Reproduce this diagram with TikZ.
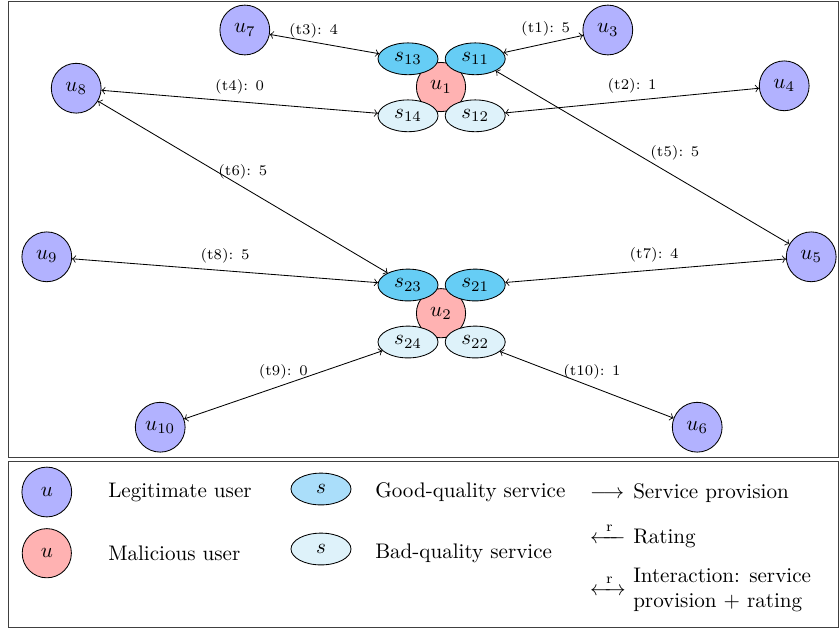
\documentclass[tikz,border=0pt]{standalone}
\usepackage{mathtools}
\usetikzlibrary{shapes.geometric}

\definecolor{legitblue}{RGB}{178,178,255}
\definecolor{malred}{RGB}{255,178,178}
\definecolor{goodsvc}{RGB}{102,205,245}
\definecolor{goodkey}{RGB}{170,222,250}
\definecolor{badsvc}{RGB}{222,242,250}

\begin{document}
\begin{tikzpicture}[thin, legit/.style = {draw, circle, fill=legitblue, minimum size=0.83cm, inner sep=0pt},
		mal/.style = {draw, circle, fill=malred, minimum size=0.82cm, inner sep=0pt},
		good/.style = {draw, ellipse, fill=goodsvc, minimum width=1cm, minimum height=0.53cm, inner sep=0pt},
		bad/.style = {draw, ellipse, fill=badsvc, minimum width=1cm, minimum height=0.53cm, inner sep=0pt},
		lbl/.style = {font=\scriptsize, above},
		keytext/.style = {anchor=base west},
		keyarrow/.style = {anchor=base west, inner sep=0pt}]

		\useasboundingbox (0,0) rectangle (13.983,-10.5);

		% frames
		\draw[black!75] (0.138,-0.017) rectangle (13.967,-7.617);
		\draw[black!75] (0.138,-7.683) rectangle (13.967,-10.45);

		% users
		\node[legit] (u7) at (4.08,-0.50) {$u_7$};
		\node[legit] (u3) at (10.13,-0.50) {$u_3$};
		\node[legit] (u8) at (1.27,-1.47) {$u_8$};
		\node[legit] (u4) at (13.07,-1.43) {$u_4$};
		\node[legit] (u9) at (0.78,-4.28) {$u_9$};
		\node[legit] (u5) at (13.52,-4.28) {$u_5$};
		\node[legit] (u10) at (2.67,-7.12) {$u_{10}$};
		\node[legit] (u6) at (11.62,-7.12) {$u_6$};

		% first malicious user and its services
		\node[mal] (u1) at (7.35,-1.45) {$u_1$};
		\node[good] (s13) at (6.80,-0.98) {$s_{13}$};
		\node[good] (s11) at (7.92,-0.98) {$s_{11}$};
		\node[bad] (s14) at (6.80,-1.93) {$s_{14}$};
		\node[bad] (s12) at (7.92,-1.93) {$s_{12}$};

		% second malicious user and its services
		\node[mal] (u2) at (7.35,-5.22) {$u_2$};
		\node[good] (s23) at (6.80,-4.75) {$s_{23}$};
		\node[good] (s21) at (7.92,-4.75) {$s_{21}$};
		\node[bad] (s24) at (6.80,-5.70) {$s_{24}$};
		\node[bad] (s22) at (7.92,-5.70) {$s_{22}$};

		% interactions
		\draw[<->] (u7) -- node[lbl, pos=0.4, yshift=-1.5pt] {(t3): 4} (s13);
		\draw[<->] (u3) -- node[lbl, pos=0.47] {(t1): 5} (s11);
		\draw[<->] (u8) -- node[lbl, pos=0.5] {(t4): 0} (s14);
		\draw[<->] (u4) -- node[lbl, pos=0.5] {(t2): 1} (s12);
		\draw[<->] (u5) -- node[lbl, pos=0.39, above=4pt] {(t5): 5} (s11);
		\draw[<->] (u8) -- node[lbl, pos=0.5] {(t6): 5} (s23);
		\draw[<->] (u9) -- node[lbl, pos=0.5] {(t8): 5} (s23);
		\draw[<->] (u5) -- node[lbl, pos=0.47] {(t7): 4} (s21);
		\draw[<->] (u10) -- node[lbl, pos=0.5, yshift=-1pt] {(t9): 0} (s24);
		\draw[<->] (u6) -- node[lbl, pos=0.47] {(t10): 1} (s22);

		% legend
		\node[legit] (ku) at (0.78,-8.20) {$u$};
		\node[mal] (km) at (0.78,-9.22) {$u$};
		\node[anchor=west] (kut) at (1.68,-8.20) {Legitimate user};
		\node[anchor=west] (kmt) at (1.68,-9.22) {Malicious user};
		\node[good, fill=goodkey] (kg) at (5.35,-8.15) {$s$};
		\node[bad] (kb) at (5.35,-9.15) {$s$};
		\node[anchor=west] (kgt) at (6.13,-8.20) {Good-quality service};
		\node[anchor=west] (kbt) at (6.13,-9.22) {Bad-quality service};
		\node[keyarrow] (ka1) at (9.83,-8.30) {$\longrightarrow$};
		\node[keytext] (ka1t) at (10.43,-8.30) {Service provision};
		\node[keyarrow] (ka2) at (9.83,-9.06) {$\xleftarrow{\;\,\mathrm{r}\,\;}$};
		\node[keytext] (ka2t) at (10.43,-9.06) {Rating};
		\node[keyarrow] (ka3) at (9.83,-9.93) {$\xleftrightarrow{\;\,\mathrm{r}\,\;}$};
		\node[anchor=west, align=left] (ka3t) at (10.43,-9.83) {Interaction: service\\provision + rating};

	\end{tikzpicture}
\end{document}
